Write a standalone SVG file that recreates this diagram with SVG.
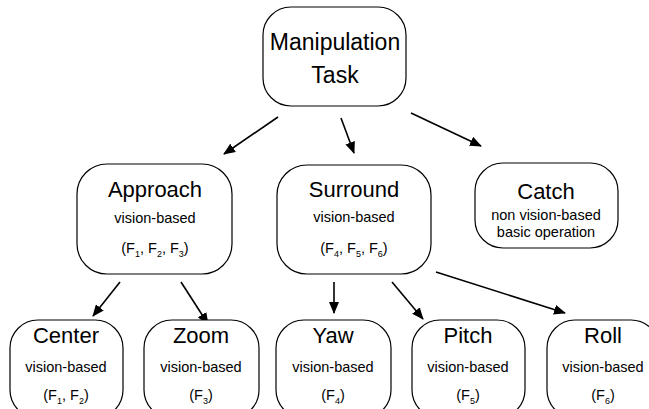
<svg xmlns="http://www.w3.org/2000/svg" width="649" height="409" viewBox="0 0 649 409">
  <style>
    .box { fill: #ffffff; stroke: #000000; stroke-width: 1.2; }
    .edge { stroke: #000000; stroke-width: 1.6; fill: none; marker-end: url(#arrow); }
    text { font-family: "Liberation Sans", Arial, sans-serif; fill: #000000; text-anchor: middle; }
    .title { font-size: 23px; }
    .name { font-size: 22px; }
    .sub { font-size: 14.5px; }
    .idx { font-size: 9px; }
  </style>
  <defs>
    <marker id="arrow" viewBox="0 0 12 10" refX="11" refY="5" markerWidth="12" markerHeight="10" markerUnits="userSpaceOnUse" orient="auto">
      <path d="M0,0 L12,5 L0,10 Z" fill="#000000"/>
    </marker>
  </defs>
  <rect width="649" height="409" fill="#ffffff"/>

  <g id="connectors">
    <line class="edge" x1="278" y1="117" x2="224" y2="154"/>
    <line class="edge" x1="341" y1="118" x2="354" y2="153"/>
    <line class="edge" x1="411" y1="113" x2="481" y2="146"/>
    <line class="edge" x1="120" y1="282" x2="93" y2="316"/>
    <line class="edge" x1="181" y1="282" x2="208" y2="324"/>
    <line class="edge" x1="334" y1="282" x2="334" y2="313"/>
    <line class="edge" x1="392" y1="282" x2="423" y2="319"/>
    <line class="edge" x1="436" y1="272" x2="565" y2="313"/>
  </g>

  <g id="manipulation-task">
    <rect class="box" x="263" y="7" width="143" height="99" rx="28" ry="28"/>
    <text class="title" x="335" y="50">Manipulation</text>
    <text class="title" x="335" y="83">Task</text>
  </g>

  <g id="approach">
    <rect class="box" x="77" y="164" width="155" height="110" rx="30" ry="30"/>
    <text class="name" x="155" y="197">Approach</text>
    <text class="sub" x="155" y="223">vision-based</text>
    <text class="sub" x="155" y="253">(F<tspan class="idx" dy="4">1</tspan><tspan dy="-4">, F</tspan><tspan class="idx" dy="4">2</tspan><tspan dy="-4">, F</tspan><tspan class="idx" dy="4">3</tspan><tspan dy="-4">)</tspan></text>
  </g>

  <g id="surround">
    <rect class="box" x="277" y="165" width="154" height="109" rx="30" ry="30"/>
    <text class="name" x="354" y="197">Surround</text>
    <text class="sub" x="354" y="222">vision-based</text>
    <text class="sub" x="354" y="253">(F<tspan class="idx" dy="4">4</tspan><tspan dy="-4">, F</tspan><tspan class="idx" dy="4">5</tspan><tspan dy="-4">, F</tspan><tspan class="idx" dy="4">6</tspan><tspan dy="-4">)</tspan></text>
  </g>

  <g id="catch">
    <rect class="box" x="475" y="163" width="143" height="85" rx="28" ry="28"/>
    <text class="name" x="546" y="199">Catch</text>
    <text class="sub" x="546" y="220">non vision-based</text>
    <text class="sub" x="546" y="237">basic operation</text>
  </g>

  <g id="center">
    <rect class="box" x="10" y="320" width="113" height="98" rx="28" ry="28"/>
    <text class="name" x="66" y="343">Center</text>
    <text class="sub" x="66" y="372">vision-based</text>
    <text class="sub" x="66" y="400">(F<tspan class="idx" dy="4">1</tspan><tspan dy="-4">, F</tspan><tspan class="idx" dy="4">2</tspan><tspan dy="-4">)</tspan></text>
  </g>

  <g id="zoom">
    <rect class="box" x="144" y="320" width="115" height="98" rx="28" ry="28"/>
    <text class="name" x="201" y="343">Zoom</text>
    <text class="sub" x="201" y="372">vision-based</text>
    <text class="sub" x="201" y="400">(F<tspan class="idx" dy="4">3</tspan><tspan dy="-4">)</tspan></text>
  </g>

  <g id="yaw">
    <rect class="box" x="276" y="320" width="115" height="98" rx="28" ry="28"/>
    <text class="name" x="333" y="343">Yaw</text>
    <text class="sub" x="333" y="372">vision-based</text>
    <text class="sub" x="333" y="400">(F<tspan class="idx" dy="4">4</tspan><tspan dy="-4">)</tspan></text>
  </g>

  <g id="pitch">
    <rect class="box" x="412" y="320" width="113" height="98" rx="28" ry="28"/>
    <text class="name" x="468" y="343">Pitch</text>
    <text class="sub" x="468" y="372">vision-based</text>
    <text class="sub" x="468" y="400">(F<tspan class="idx" dy="4">5</tspan><tspan dy="-4">)</tspan></text>
  </g>

  <g id="roll">
    <rect class="box" x="547" y="320" width="112" height="98" rx="28" ry="28"/>
    <text class="name" x="603" y="343">Roll</text>
    <text class="sub" x="603" y="372">vision-based</text>
    <text class="sub" x="603" y="400">(F<tspan class="idx" dy="4">6</tspan><tspan dy="-4">)</tspan></text>
  </g>
</svg>
